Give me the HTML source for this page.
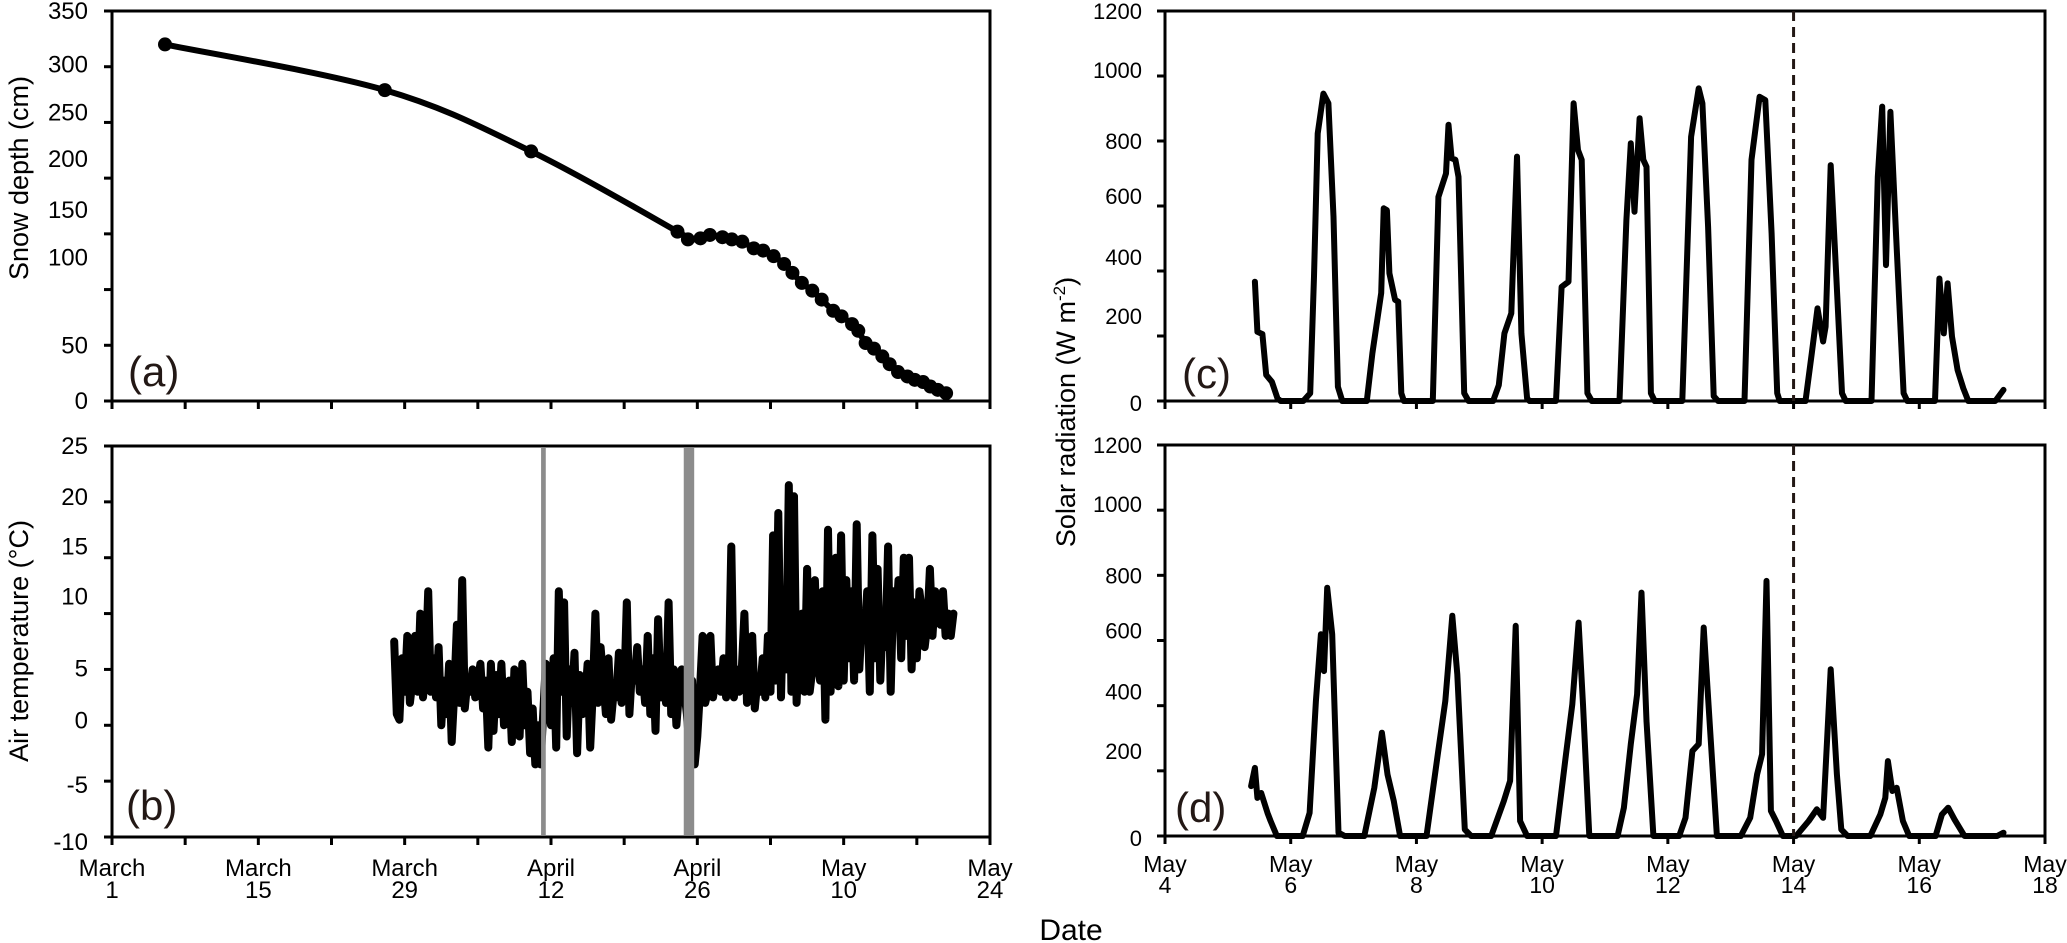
<!DOCTYPE html>
<html><head><meta charset="utf-8"><style>
html,body{margin:0;padding:0;background:#fff;}
svg{display:block;font-family:"Liberation Sans",Arial,sans-serif;}
</style></head><body>
<svg id="chart" width="2067" height="943" viewBox="0 0 2067 943" xmlns="http://www.w3.org/2000/svg">
<text x="0" y="0" font-size="27" text-anchor="middle" transform="translate(28,178) rotate(-90)">Snow depth (cm)</text>
<text x="0" y="0" font-size="27" text-anchor="middle" transform="translate(28,641) rotate(-90)">Air temperature (°C)</text>
<text x="0" y="0" font-size="27" text-anchor="middle" transform="translate(1075,412) rotate(-90)">Solar radiation (W m<tspan font-size="17" dy="-10">-2</tspan><tspan dy="10">)</tspan></text>
<text x="1071" y="940" font-size="30" text-anchor="middle">Date</text>
</svg>
<script>
// ---- data ----
const snowDays = [5.07,26.1,40.1,54.1,55.1,56.3,57.2,58.4,59.3,60.3,61.4,62.3,63.3,64.3,65.1,66,67,67.9,69,69.8,70.8,71.4,72.1,72.9,73.7,74.4,75.2,76.1,76.8,77.6,78.3,79,79.8];
const snowDepth = [320,279,224,152,145,146,149,147,145,143,137,135,130,123,115,106,99,91,81,76,69,63,52,47,40,33,26,22,19,17,13,10,7];
const tempStartDay = 27;
const tempStepDays = 0.25;
const tempValues = [
7.5,1,0.5,6, 3,8,2,4, 8,3,10,2.5, 5,12,3,6, 2.5,7,0,4, 1,5.5,-1.5,3, 9,2,13,1.5, 4,3,5,2.5,
4,5.5,1.5,4, -2,5.5,-0.5,4.5, 1,5.5,0,3, 4,-1.5,5,3.5, -1,5.5,0,3, -2.5,1.5,-3.5,0, -3.5,1,5.5,2,
0,6,-2,12, 3,11,-1,5, 2,6.5,-2.5,4.5, 1,2,5.5,-2, 3,10,2,7, 4,1,6,0.5, 3,2.5,6.5,2, 3,11,1,5,
4,7,3,5, 2,8,1,6, -0.5,9.5,2.5,5, 2,11,1,5, 0,3,5,3, 1,-2,4,-3.5, -1,3,8,2, 3,8,2.5,4,
5,3,6,2.5, 4,16,2.5,5, 3,5,10,2, 4,8,1.5,4, 3,6,2.5,8, 3,17,4,19, 2.5,12,5,21.5, 3,20.5,2,8,
10,3,14,3, 5,13,6,4, 12,0.5,17.5,3, 10,15,3.5,17, 4,13,6,12, 4,18,5,10, 8,12,3,17, 6,14,4,10,
7,16,3,12, 9,13,6,15, 8,15,5,11, 6,12,10,7, 9,14,8,12, 10,9,12,8, 10,8,10];
const tempGapDays = [[41.05,41.5],[54.7,55.7]];
const solarCTimes = [1.43,1.47,1.55,1.61,1.70,1.79,1.84, 2.20,2.31,2.37,2.43,2.52,2.60,2.68,2.75,2.82, 3.21,3.30,3.44,3.48,3.53,3.57,3.66,3.71,3.76,3.80, 4.26,4.35,4.47,4.51,4.56,4.62,4.67,4.76,4.83, 5.22,5.31,5.40,5.51,5.60,5.67,5.76,5.80, 6.22,6.31,6.42,6.50,6.57,6.63,6.72,6.79, 7.23,7.34,7.41,7.47,7.55,7.61,7.66,7.73,7.79, 8.23,8.37,8.49,8.55,8.64,8.73,8.80, 9.22,9.33,9.46,9.55,9.65,9.74,9.78, 10.19,10.29,10.38,10.47,10.51,10.59,10.68,10.77,10.83, 11.24,11.34,11.41,11.47,11.54,11.63,11.75,11.81, 12.25,12.32,12.39,12.45,12.52,12.61,12.70,12.78, 13.21,13.34];
const solarCValues = [367,213,206,80,59,8,0, 0,24,383,823,946,916,567,44,0, 0,147,332,593,587,393,311,306,24,0, 0,628,700,850,747,742,690,24,0, 0,49,208,270,752,208,8,0, 0,351,367,916,772,742,24,0, 0,557,793,582,870,742,721,24,0, 0,813,962,916,536,15,0, 0,742,936,926,516,24,0, 0,147,285,183,229,726,383,24,0, 0,690,906,418,890,516,24,0, 0,377,208,362,198,95,39,0, 0,34];
const solarDTimes = [1.37,1.43,1.47,1.53,1.63,1.68,1.78, 2.19,2.30,2.40,2.48,2.53,2.58,2.66,2.76,2.86, 3.17,3.33,3.45,3.54,3.64,3.74, 4.16,4.34,4.46,4.57,4.65,4.77,4.87, 5.19,5.39,5.49,5.58,5.65,5.76, 6.22,6.38,6.48,6.58,6.65,6.75, 7.20,7.30,7.41,7.51,7.58,7.66,7.77, 8.18,8.28,8.39,8.49,8.57,8.68,8.78, 9.16,9.31,9.42,9.50,9.57,9.64,9.72,9.83, 10.04,10.24,10.37,10.47,10.59,10.69,10.76,10.86, 11.22,11.38,11.46,11.50,11.57,11.64,11.74,11.84, 12.26,12.36,12.46,12.56,12.72, 13.24,13.34];
const solarDValues = [153,209,117,132,71,46,0, 0,71,414,619,506,762,619,10,0, 0,148,317,189,107,0, 0,251,414,676,496,20,0, 0,107,169,645,46,0, 0,251,404,655,404,0, 0,87,282,435,747,353,0, 0,56,261,282,640,302,0, 0,56,189,251,783,77,46,0, 0,46,82,56,512,189,20,0, 0,66,117,230,138,148,46,0, 0,66,87,51,0, 0,10];
const cutoffDay = 10;
const leftTicksA = [0,50,100,150,200,250,300,350];
const leftTicksB = [-10,-5,0,5,10,15,20,25];
const leftTicksCD = [0,200,400,600,800,1000,1200];
const dateTicksAB = [0,14,28,42,56,70,84];
const dateLabelsAB = [["March","1"],["March","15"],["March","29"],["April","12"],["April","26"],["May","10"],["May","24"]];
const dateTicksCD = [0,2,4,6,8,10,12,14];
const dateLabelsCD = [["May","4"],["May","6"],["May","8"],["May","10"],["May","12"],["May","14"],["May","16"],["May","18"]];

// ---- layout ----
const svg = document.getElementById('chart');
const NS = 'http://www.w3.org/2000/svg';
const LA = 112, RA = 990, LC = 1165, RC = 2045;
const TA = 11, BA = 401, TB = 446, BB = 837, TD = 445, BD = 836;
const xAB = d => LA + d * (RA - LA) / 84;
const xCD = d => LC + d * (RC - LC) / 14;
const yA = v => BA - v * (BA - TA) / 350;
const yB = v => BB - (v + 10) * (BB - TB) / 35;
const yC = v => BA - v * (BA - TA) / 1200;
const yD = v => BD - v * (BD - TD) / 1200;
const labelShiftA = {0:0,50:0,100:-32,150:-24,200:-19,250:-10,300:-2,350:0};
const labelShiftB = {'-10':5,'-5':4,'0':-5,'5':-1,'10':-17,'15':-11,'20':-5,'25':0};
const labelShiftCD = {0:2,200:-20,400:-14,600:-10,800:0,1000:-6,1200:0};

function mk(tag, attrs, txt){
  const e = document.createElementNS(NS, tag);
  for (const k in attrs) e.setAttribute(k, attrs[k]);
  if (txt !== undefined) e.textContent = txt;
  svg.appendChild(e);
  return e;
}
function smoothPath(pts){
  let d = 'M' + pts[0][0] + ',' + pts[0][1];
  for (let i = 0; i < pts.length - 1; i++){
    const p0 = pts[Math.max(0,i-1)], p1 = pts[i], p2 = pts[i+1], p3 = pts[Math.min(pts.length-1,i+2)];
    const c1x = p1[0] + (p2[0]-p0[0])/6, c1y = p1[1] + (p2[1]-p0[1])/6;
    const c2x = p2[0] - (p3[0]-p1[0])/6, c2y = p2[1] - (p3[1]-p1[1])/6;
    d += ' C' + c1x + ',' + c1y + ' ' + c2x + ',' + c2y + ' ' + p2[0] + ',' + p2[1];
  }
  return d;
}

function panelAxes(key, L, R, T, B, xf, yf, yTicks, shifts, labelX, fs, xTicks){
  const f = mk('rect', {x:L, y:T, width:R-L, height:B-T, fill:'none', stroke:'#000', 'stroke-width':3});
  
  
  yTicks.forEach(v => {
    const t = mk('line', {x1:L-8, x2:L, y1:yf(v), y2:yf(v), stroke:'#000', 'stroke-width':3});
    
    
    const lb = mk('text', {x:labelX, y:yf(v) + 8 + shifts[v], 'font-size':fs, 'text-anchor':'end'}, String(v));
    
    
  });
  xTicks.forEach(d => {
    const t = mk('line', {x1:xf(d), x2:xf(d), y1:B, y2:B+8, stroke:'#000', 'stroke-width':3});
    
    
  });
}
const minorAB = [0,7,14,21,28,35,42,49,56,63,70,77,84];
panelAxes('a', LA, RA, TA, BA, xAB, yA, leftTicksA, labelShiftA, 88, 24, minorAB);
panelAxes('b', LA, RA, TB, BB, xAB, yB, leftTicksB, labelShiftB, 88, 24, minorAB);
panelAxes('c', LC, RC, TA, BA, xCD, yC, leftTicksCD, labelShiftCD, 1142, 22, dateTicksCD);
panelAxes('d', LC, RC, TD, BD, xCD, yD, leftTicksCD, labelShiftCD, 1142, 22, dateTicksCD);
dateTicksAB.forEach((d, i) => {
  const lb = mk('text', {x:xAB(d), y:876, 'font-size':24, 'text-anchor':'middle'}, dateLabelsAB[i][0]);
  
  
  const lb2 = mk('text', {x:xAB(d), y:898, 'font-size':24, 'text-anchor':'middle'}, dateLabelsAB[i][1]);
  
  
});
dateTicksCD.forEach((d, i) => {
  const lb = mk('text', {x:xCD(d), y:872, 'font-size':23, 'text-anchor':'middle'}, dateLabelsCD[i][0]);
  
  
  const lb2 = mk('text', {x:xCD(d), y:893, 'font-size':23, 'text-anchor':'middle'}, dateLabelsCD[i][1]);
  
  
});

// snow depth
const snowPts = snowDays.map((d, i) => [xAB(d), yA(snowDepth[i])]);
const sl = mk('path', {d:smoothPath(snowPts), fill:'none', stroke:'#000', 'stroke-width':6, 'stroke-linejoin':'round'});


snowPts.forEach(p => {
  const c = mk('circle', {cx:p[0], cy:p[1], r:7, fill:'#000'});
  
  
});

// air temperature
const tPts = tempValues.map((v, i) => xAB(tempStartDay + i*tempStepDays).toFixed(1) + ',' + yB(v).toFixed(1));
const tl = mk('polyline', {points:tPts.join(' '), fill:'none', stroke:'#000', 'stroke-width':8, 'stroke-linejoin':'round', 'stroke-linecap':'round'});


tempGapDays.forEach(g => {
  const r = mk('rect', {x:xAB(g[0]), y:TB+2, width:xAB(g[1])-xAB(g[0]), height:BB-TB-4, fill:'#8c8c8c'});
  
  
});

// solar
function solarLine(times, vals, yf, name){
  const pts = times.map((t, i) => xCD(t).toFixed(1) + ',' + yf(vals[i]).toFixed(1));
  const p = mk('polyline', {points:pts.join(' '), fill:'none', stroke:'#000', 'stroke-width':6, 'stroke-linejoin':'round', 'stroke-linecap':'round'});
  
  
}
solarLine(solarCTimes, solarCValues, yC, 'solar-radiation-line-c');
solarLine(solarDTimes, solarDValues, yD, 'solar-radiation-line-d');
const dc = mk('line', {x1:xCD(cutoffDay), x2:xCD(cutoffDay), y1:TA, y2:BA, stroke:'#231815', 'stroke-width':3, 'stroke-dasharray':'10 6'});


const dd = mk('line', {x1:xCD(cutoffDay), x2:xCD(cutoffDay), y1:TD, y2:BD, stroke:'#231815', 'stroke-width':3, 'stroke-dasharray':'10 6'});



// panel letters
const pa = mk('text', {x:128, y:386, 'font-size':42, fill:'#231815'}, '(a)');


const pb = mk('text', {x:126, y:820, 'font-size':42, fill:'#231815'}, '(b)');


const pc = mk('text', {x:1182, y:388, 'font-size':42, fill:'#231815'}, '(c)');


const pd = mk('text', {x:1175, y:822, 'font-size':42, fill:'#231815'}, '(d)');


</script>
</body></html>
